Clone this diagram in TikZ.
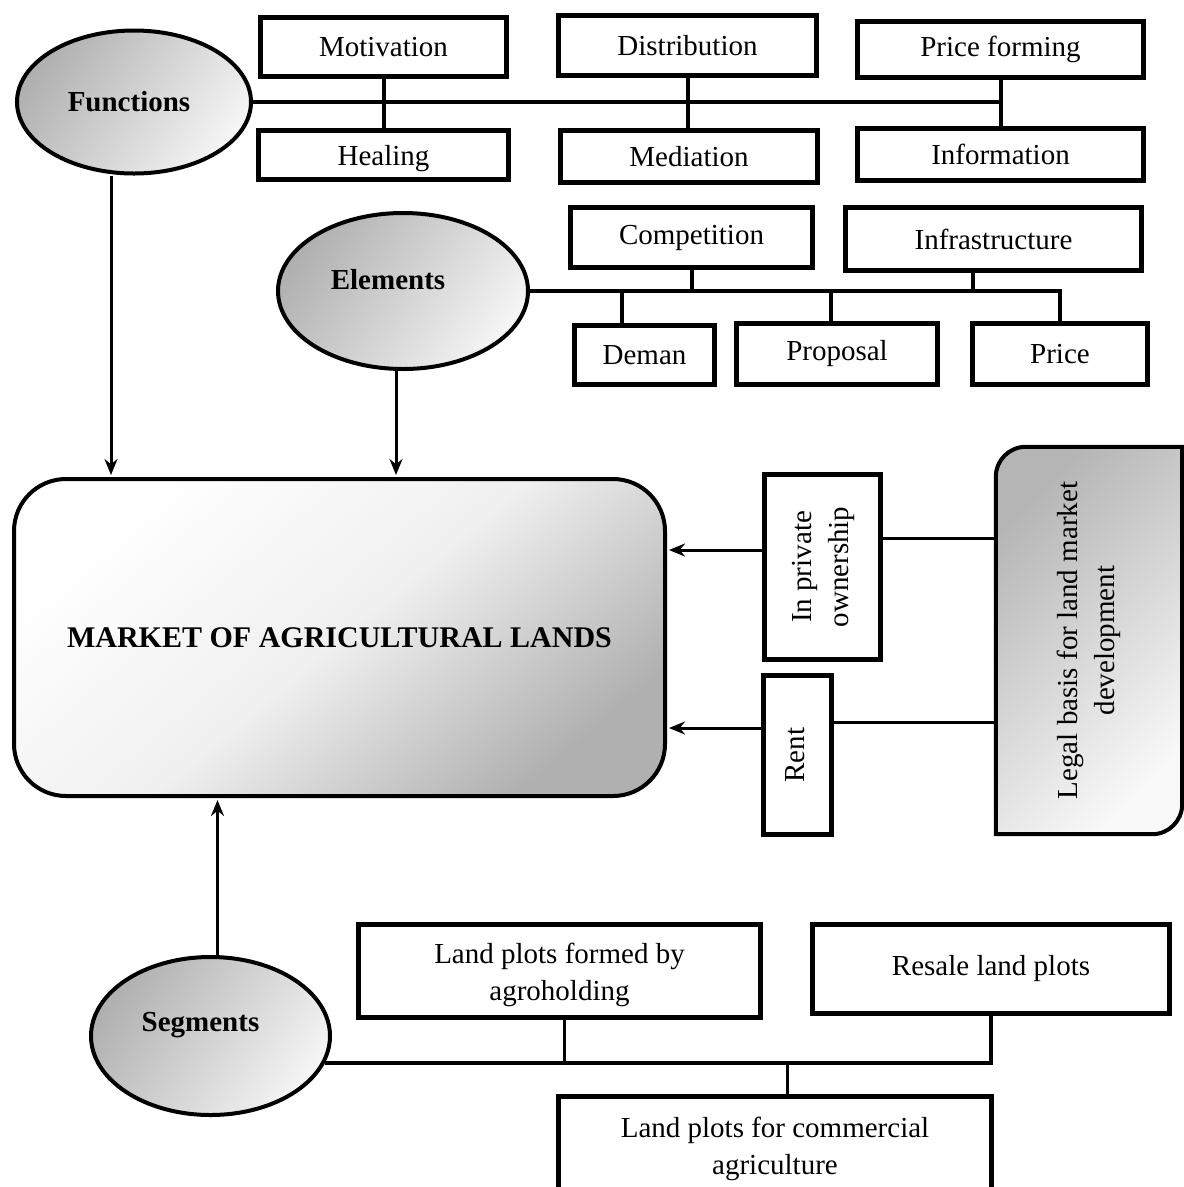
\documentclass[tikz,border=0pt]{standalone}
\usepackage{fontspec}
\setmainfont{Liberation Serif}
\usetikzlibrary{arrows.meta, shapes.geometric, backgrounds}

\newcommand{\uptext}[1]{\rotatebox{90}{\begin{tabular}{@{}c@{}}#1\end{tabular}}}
% move a label inside its shape without moving the shape
\newcommand{\offtext}[3]{\raisebox{#2}[\height][\depth]{#3\hspace*{#1}}}

\begin{document}
\begin{tikzpicture}[
        x=1pt, y=1pt,
        >={Stealth[length=16pt,width=13pt]},
        every node/.style={font=\fontsize{29}{37}\selectfont, inner sep=0pt},
        fbox/.style={draw, line width=5pt, fill=white},
        oval/.style={ellipse, draw, line width=4pt, font=\bfseries\fontsize{29}{37}\selectfont,
            top color=gray!62, bottom color=gray!8, shading angle=55},
        link/.style={line width=4pt},
        arr/.style={->, line width=3pt, shorten >=2pt}
    ]
    \useasboundingbox (0,0) rectangle (1184,-1187);

    % Functions and its boxes
    \node[oval, minimum width=234, minimum height=143] (func) at (134,-102) {\offtext{10pt}{0pt}{Functions}};
    \node[fbox, minimum width=246, minimum height=59] (motiv) at (383.5,-47) {Motivation};
    \node[fbox, minimum width=250, minimum height=49] (heal) at (383.5,-155) {\offtext{0pt}{-4pt}{Healing}};
    \node[fbox, minimum width=258, minimum height=60] (distr) at (687.5,-45.5) {Distribution};
    \node[fbox, minimum width=257, minimum height=52] (medi) at (689,-156.5) {Mediation};
    \node[fbox, minimum width=286, minimum height=56] (pform) at (1000.5,-49.5) {Price forming};
    \node[fbox, minimum width=286, minimum height=52] (inform) at (1000.5,-154.5) {Information};

    % Elements and its boxes
    \node[oval, minimum width=250, minimum height=156] (elem) at (403,-291) {\offtext{30pt}{11pt}{Elements}};
    \node[fbox, minimum width=242, minimum height=60] (compet) at (691.5,-237.5) {Competition};
    \node[fbox, minimum width=296, minimum height=63] (infra) at (993.5,-239) {Infrastructure};
    \node[fbox, minimum width=140, minimum height=59] (deman) at (644.5,-355) {Deman};
    \node[fbox, minimum width=201, minimum height=61] (propos) at (837,-354) {Proposal};
    \node[fbox, minimum width=175, minimum height=61] (price) at (1060,-354) {Price};

    % Market in the middle
    \node[draw, line width=4pt, rounded corners=52pt, minimum width=651, minimum height=317,
        top color=white, bottom color=gray!62, middle color=gray!12, shading angle=40,
        font=\bfseries\fontsize{30}{37}\selectfont] (market) at (339.5,-637.5) {MARKET OF AGRICULTURAL LANDS};

    % Legal side
    \node[fbox, minimum width=116, minimum height=185] (priv) at (822.5,-567) {\uptext{In private\\ownership}};
    \node[fbox, minimum width=68, minimum height=159] (rent) at (797.5,-755) {\uptext{Rent}};
    \node[minimum width=186, minimum height=387] (legal) at (1089,-640.5) {\uptext{Legal basis for land market\\development}};

    % Segments and its boxes
    \node[oval, minimum width=239, minimum height=158] (seg) at (210.5,-1036) {\offtext{20pt}{11pt}{Segments}};
    \node[fbox, minimum width=402, minimum height=93] (agro) at (559.5,-971) {\offtext{0pt}{-4pt}{\begin{tabular}{@{}c@{}}Land plots formed by\\agroholding\end{tabular}}};
    \node[fbox, minimum width=357, minimum height=89] (resale) at (991,-969) {Resale land plots};
    \node[fbox, minimum width=433, minimum height=105, align=center] (comm) at (775,-1149) {Land plots for commercial\\agriculture};

    \begin{scope}[on background layer]
        \fill[white] (0,0) rectangle (1184,-1187);
        \draw[line width=4pt, top color=gray!58, bottom color=gray!5, shading angle=45]
            (legal.south west) -- ([yshift=-30pt]legal.north west)
            arc[start angle=180, end angle=90, radius=30pt] -- (legal.north east)
            -- ([yshift=30pt]legal.south east)
            arc[start angle=0, end angle=-90, radius=30pt] -- cycle;
    \end{scope}

    % Functions links
    \draw[link] (func.east) -- (func.east -| pform.south);
    \draw[link] (motiv) -- (heal);
    \draw[link] (distr.south) -- (distr.south |- medi.north);
    \draw[link] (pform) -- (inform);

    % Elements links
    \draw[link] (elem.east) -- (elem.east -| price.north) -- (price.north);
    \draw[link] (compet.south) -- (compet.south |- elem.east);
    \draw[link] ([xshift=-21pt]infra.south) -- ([xshift=-21pt]infra.south |- elem.east);
    \draw[link] ([xshift=-23pt]deman.north) -- ([xshift=-23pt]deman.north |- elem.east);
    \draw[link] ([xshift=-6pt]propos.north) -- ([xshift=-6pt]propos.north |- elem.east);

    % Arrows into the market
    \draw[arr] ([xshift=-23pt]func.south) -- ([xshift=-23pt]func.south |- market.north);
    \draw[arr] ([xshift=-7pt]elem.south) -- ([xshift=-7pt]elem.south |- market.north);
    \draw[arr] ([xshift=7pt]seg.north) -- ([xshift=7pt]seg.north |- market.south);
    \draw[link, line width=3pt] ([yshift=29pt]priv.east) -- ([yshift=29pt]priv.east -| legal.west);
    \draw[arr] ([yshift=17pt]priv.west) -- ([yshift=17pt]priv.west -| market.east);
    \draw[link, line width=3pt] ([yshift=33pt]rent.east) -- ([yshift=33pt]rent.east -| legal.west);
    \draw[arr] ([yshift=27pt]rent.west) -- ([yshift=27pt]rent.west -| market.east);

    % Segments links
    \draw[link] (seg.-13) -- (seg.-13 -| resale.south) -- (resale.south);
    \draw[link, line width=3pt] ([xshift=5pt]agro.south) -- ([xshift=5pt]agro.south |- seg.-13);
    \draw[link, line width=3pt] ([xshift=12pt]comm.north) -- ([xshift=12pt]comm.north |- seg.-13);

\end{tikzpicture}
\end{document}
